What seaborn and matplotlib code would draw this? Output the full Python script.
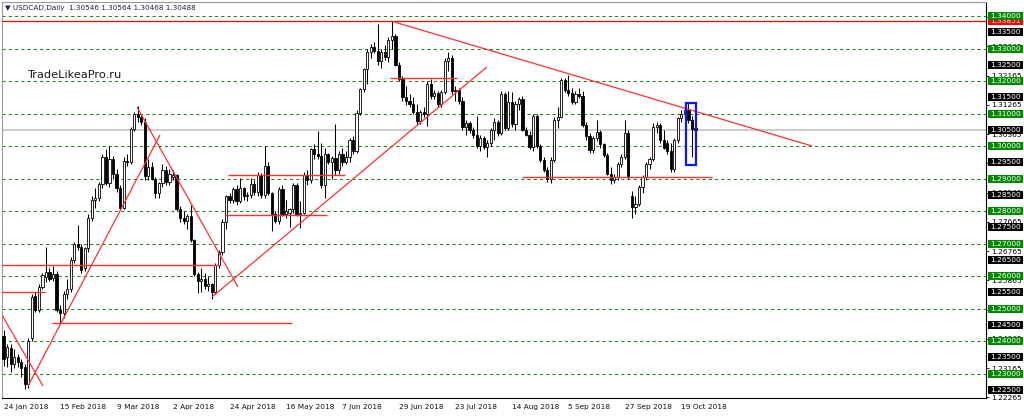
import numpy as np
import pandas as pd
import matplotlib
matplotlib.use("Agg")
import matplotlib.pyplot as plt
import matplotlib.transforms as mtransforms
from matplotlib.patches import Rectangle
import seaborn as sns

sns.set_style("white")
plt.rcParams['font.family'] = ['DejaVu Sans']

# ---------------- data ----------------
chart_title = "\u25bc USDCAD,Daily  1.30546 1.30564 1.30468 1.30488"
watermark = "TradeLikeaPro.ru"

opens = [
    1.2415, 1.2350, 1.2380, 1.2330, 1.2350, 1.2335, 1.2320, 1.2268, 1.2410, 1.2540,
    1.2495, 1.2567, 1.2598, 1.2612, 1.2595, 1.2605, 1.2495, 1.2485, 1.2545, 1.2560,
    1.2650, 1.2700, 1.2690, 1.2625, 1.2685, 1.2778, 1.2835, 1.2840, 1.2882, 1.2965,
    1.2885, 1.2960, 1.2915, 1.2870, 1.2810, 1.2955, 1.2950, 1.3052, 1.3098, 1.3090,
    1.3075, 1.2907, 1.2935, 1.2900, 1.2855, 1.2885, 1.2925, 1.2890, 1.2905, 1.2910,
    1.2805, 1.2780, 1.2770, 1.2785, 1.2712, 1.2605, 1.2585, 1.2592, 1.2568, 1.2575,
    1.2550, 1.2635, 1.2675, 1.2765, 1.2845, 1.2835, 1.2868, 1.2830, 1.2870, 1.2845,
    1.2848, 1.2882, 1.2860, 1.2912, 1.2850, 1.2940, 1.2856, 1.2790, 1.2768, 1.2868,
    1.2792, 1.2795, 1.2805, 1.2880, 1.2790, 1.2795, 1.2912, 1.2895, 1.2990, 1.2975,
    1.2968, 1.2880, 1.2975, 1.2950, 1.2962, 1.2925, 1.2975, 1.2950, 1.2965, 1.3020,
    1.2985, 1.3103, 1.3174, 1.3236, 1.3290, 1.3305, 1.3292, 1.3262, 1.3290, 1.3275,
    1.3325, 1.3340, 1.3250, 1.3205, 1.3150, 1.3140, 1.3130, 1.3105, 1.3078, 1.3105,
    1.3098, 1.3190, 1.3155, 1.3162, 1.3130, 1.3165, 1.3262, 1.3272, 1.3170, 1.3172,
    1.3140, 1.3060, 1.3072, 1.3050, 1.3035, 1.3000, 1.3025, 1.2997, 1.3010, 1.3050,
    1.3075, 1.3040, 1.3160, 1.3055, 1.3136, 1.3068, 1.3130, 1.3145, 1.3050, 1.3035,
    1.2997, 1.3092, 1.3000, 1.2956, 1.2925, 1.2900, 1.2956, 1.3080, 1.3090, 1.3203,
    1.3172, 1.3162, 1.3136, 1.3160, 1.3155, 1.3065, 1.3030, 1.2988, 1.3025, 1.3043,
    1.3005, 1.2972, 1.2915, 1.2895, 1.2905, 1.2945, 1.2966, 1.3040, 1.2847, 1.2811,
    1.2822, 1.2873, 1.2904, 1.2945, 1.2960, 1.3059, 1.3064, 1.3018, 1.3010, 1.2985,
    1.2930, 1.3018, 1.3085, 1.3098, 1.3112, 1.3080, 1.30546,
]
highs = [
    1.2435, 1.2392, 1.2390, 1.2375, 1.2360, 1.2345, 1.2330, 1.2410, 1.2545, 1.2550,
    1.2575, 1.2610, 1.2690, 1.2625, 1.2630, 1.2615, 1.2510, 1.2555, 1.2590, 1.2660,
    1.2705, 1.2758, 1.2700, 1.2690, 1.2790, 1.2845, 1.2870, 1.2890, 1.2975, 1.2990,
    1.3000, 1.2970, 1.2930, 1.2880, 1.2965, 1.2975, 1.3058, 1.3105, 1.3122, 1.3100,
    1.3085, 1.2960, 1.2950, 1.2905, 1.2890, 1.2945, 1.2940, 1.2930, 1.2925, 1.2915,
    1.2815, 1.2800, 1.2790, 1.2820, 1.2715, 1.2612, 1.2625, 1.2610, 1.2600, 1.2580,
    1.2640, 1.2680, 1.2775, 1.2850, 1.2855, 1.2875, 1.2880, 1.2902, 1.2875, 1.2860,
    1.2902, 1.2895, 1.2920, 1.2918, 1.3000, 1.2950, 1.2860, 1.2800, 1.2875, 1.2880,
    1.2835, 1.2810, 1.2885, 1.2885, 1.2830, 1.2920, 1.2925, 1.2995, 1.3005, 1.3046,
    1.3010, 1.2995, 1.2980, 1.2970, 1.3067, 1.2985, 1.2995, 1.2985, 1.3025, 1.3030,
    1.3110, 1.3180, 1.3240, 1.3300, 1.3315, 1.3320, 1.3375, 1.3300, 1.3310, 1.3335,
    1.3386, 1.3345, 1.3260, 1.3215, 1.3185, 1.3160, 1.3150, 1.3130, 1.3110, 1.3120,
    1.3200, 1.3205, 1.3172, 1.3168, 1.3172, 1.3270, 1.3290, 1.3280, 1.3185, 1.3178,
    1.3150, 1.3080, 1.3078, 1.3060, 1.3092, 1.3035, 1.3030, 1.3020, 1.3055, 1.3085,
    1.3080, 1.3170, 1.3165, 1.3170, 1.3165, 1.3140, 1.3150, 1.3155, 1.3060, 1.3045,
    1.3100, 1.3098, 1.3005, 1.2965, 1.2935, 1.2965, 1.3090, 1.3120, 1.3210, 1.3208,
    1.3220, 1.3180, 1.3170, 1.3180, 1.3168, 1.3075, 1.3040, 1.3030, 1.3080, 1.3050,
    1.3010, 1.2980, 1.2935, 1.2915, 1.2950, 1.2975, 1.3079, 1.3050, 1.2862, 1.2845,
    1.2880, 1.2910, 1.2950, 1.2965, 1.3070, 1.3075, 1.3070, 1.3050, 1.3020, 1.3010,
    1.3025, 1.3090, 1.3110, 1.3135, 1.3133, 1.3092, 1.30564,
]
lows = [
    1.2322, 1.2320, 1.2305, 1.2318, 1.2320, 1.2290, 1.2253, 1.2255, 1.2400, 1.2490,
    1.2488, 1.2560, 1.2582, 1.2585, 1.2585, 1.2488, 1.2455, 1.2470, 1.2530, 1.2550,
    1.2640, 1.2680, 1.2610, 1.2615, 1.2675, 1.2770, 1.2810, 1.2830, 1.2870, 1.2880,
    1.2875, 1.2900, 1.2860, 1.2802, 1.2805, 1.2940, 1.2945, 1.3045, 1.3075, 1.3065,
    1.2895, 1.2895, 1.2895, 1.2840, 1.2840, 1.2875, 1.2880, 1.2880, 1.2895, 1.2800,
    1.2765, 1.2760, 1.2745, 1.2705, 1.2600, 1.2548, 1.2552, 1.2560, 1.2555, 1.2530,
    1.2545, 1.2625, 1.2665, 1.2745, 1.2825, 1.2825, 1.2820, 1.2825, 1.2835, 1.2830,
    1.2840, 1.2850, 1.2845, 1.2840, 1.2840, 1.2850, 1.2737, 1.2762, 1.2760, 1.2785,
    1.2780, 1.2752, 1.2795, 1.2785, 1.2748, 1.2790, 1.2880, 1.2885, 1.2960, 1.2960,
    1.2870, 1.2840, 1.2945, 1.2900, 1.2910, 1.2915, 1.2940, 1.2945, 1.2950, 1.2975,
    1.2980, 1.3095, 1.3165, 1.3190, 1.3270, 1.3285, 1.3250, 1.3240, 1.3265, 1.3260,
    1.3300, 1.3245, 1.3200, 1.3140, 1.3125, 1.3120, 1.3100, 1.3065, 1.3068, 1.3090,
    1.3062, 1.3145, 1.3145, 1.3120, 1.3120, 1.3160, 1.3230, 1.3160, 1.3140, 1.3130,
    1.3050, 1.3035, 1.3040, 1.3025, 1.2995, 1.2985, 1.2990, 1.2965, 1.3000, 1.3020,
    1.3030, 1.3035, 1.3050, 1.3050, 1.3060, 1.3050, 1.3110, 1.3045, 1.3030, 1.2990,
    1.2985, 1.2995, 1.2950, 1.2920, 1.2888, 1.2885, 1.2950, 1.3055, 1.3085, 1.3165,
    1.3155, 1.3130, 1.3128, 1.3148, 1.3060, 1.3020, 1.2980, 1.2980, 1.3015, 1.2995,
    1.2965, 1.2910, 1.2882, 1.2885, 1.2895, 1.2935, 1.2960, 1.2900, 1.2780, 1.2790,
    1.2815, 1.2855, 1.2895, 1.2930, 1.2955, 1.3040, 1.3010, 1.2990, 1.2975, 1.2920,
    1.2920, 1.3010, 1.3075, 1.3090, 1.3070, 1.2967, 1.30468,
]
closes = [
    1.2345, 1.2382, 1.2330, 1.2350, 1.2335, 1.2318, 1.2268, 1.2400, 1.2536, 1.2495,
    1.2567, 1.2603, 1.2612, 1.2592, 1.2605, 1.2495, 1.2485, 1.2545, 1.2560, 1.2650,
    1.2700, 1.2690, 1.2620, 1.2685, 1.2778, 1.2835, 1.2840, 1.2882, 1.2965, 1.2885,
    1.2960, 1.2915, 1.2870, 1.2810, 1.2955, 1.2950, 1.3052, 1.3098, 1.3090, 1.3075,
    1.2907, 1.2935, 1.2900, 1.2855, 1.2885, 1.2925, 1.2890, 1.2915, 1.2912, 1.2805,
    1.2780, 1.2770, 1.2785, 1.2712, 1.2605, 1.2585, 1.2592, 1.2568, 1.2575, 1.2550,
    1.2635, 1.2675, 1.2765, 1.2845, 1.2835, 1.2868, 1.2830, 1.2870, 1.2845, 1.2848,
    1.2882, 1.2860, 1.2912, 1.2850, 1.2940, 1.2856, 1.2790, 1.2768, 1.2868, 1.2792,
    1.2800, 1.2805, 1.2880, 1.2790, 1.2795, 1.2912, 1.2895, 1.2990, 1.2975, 1.2968,
    1.2880, 1.2975, 1.2950, 1.2962, 1.2925, 1.2975, 1.2950, 1.2965, 1.3020, 1.2985,
    1.3103, 1.3174, 1.3236, 1.3290, 1.3305, 1.3292, 1.3262, 1.3290, 1.3275, 1.3325,
    1.3340, 1.3250, 1.3205, 1.3150, 1.3140, 1.3130, 1.3105, 1.3078, 1.3105, 1.3098,
    1.3190, 1.3155, 1.3162, 1.3130, 1.3165, 1.3262, 1.3272, 1.3170, 1.3172, 1.3140,
    1.3060, 1.3072, 1.3050, 1.3035, 1.3000, 1.3025, 1.2997, 1.3010, 1.3050, 1.3075,
    1.3040, 1.3160, 1.3055, 1.3136, 1.3068, 1.3130, 1.3145, 1.3050, 1.3035, 1.2997,
    1.3092, 1.3000, 1.2956, 1.2925, 1.2900, 1.2956, 1.3080, 1.3090, 1.3203, 1.3172,
    1.3162, 1.3136, 1.3160, 1.3155, 1.3065, 1.3030, 1.2988, 1.3025, 1.3043, 1.3005,
    1.2972, 1.2915, 1.2895, 1.2905, 1.2945, 1.2966, 1.3040, 1.2908, 1.2811, 1.2822,
    1.2873, 1.2904, 1.2945, 1.2960, 1.3059, 1.3064, 1.3018, 1.2995, 1.2985, 1.2930,
    1.3018, 1.3085, 1.3098, 1.3112, 1.3080, 1.3052, 1.30488,
]

x_tick_labels = ["24 Jan 2018", "15 Feb 2018", "9 Mar 2018", "2 Apr 2018",
                 "24 Apr 2018", "16 May 2018", "7 Jun 2018", "29 Jun 2018",
                 "23 Jul 2018", "14 Aug 2018", "5 Sep 2018", "27 Sep 2018",
                 "19 Oct 2018"]
x_tick_bars = [0, 16, 32, 48, 64, 80, 96, 112, 128, 144, 160, 176, 192]

green_levels = [1.34, 1.33, 1.32, 1.31, 1.30, 1.29, 1.28, 1.27, 1.26, 1.25, 1.24, 1.23]
black_levels = [1.335, 1.325, 1.315, 1.305, 1.295, 1.285, 1.275, 1.265, 1.255, 1.245, 1.235, 1.225]
scale_ticks = [1.22265, 1.23165, 1.24065, 1.24965, 1.25865, 1.26765, 1.27665,
               1.28565, 1.29465, 1.30365, 1.31265, 1.32165, 1.33065, 1.33965]
current_price = 1.30488
peak_level = 1.33851

# trend lines: (bar0, price0, bar1, price1)
trend_lines = [
    (-0.45, 1.2480, 11.16, 1.22615),
    (6.91, 1.22615, 44.3, 1.30338),
    (37.79, 1.3120, 66.4, 1.25662),
    (59.04, 1.25354, 136.9, 1.32431),
    (109.75, 1.33846, 229.0, 1.30000),
]
# horizontal levels: (bar0, bar1, price)
level_lines = [
    (-0.45, 11.73, 1.25495),
    (-0.45, 61.3, 1.2633),
    (13.71, 81.7, 1.2456),
    (62.7, 91.6, 1.27887),
    (63.57, 96.7, 1.2912),
    (109.5, 128.4, 1.3209),
    (146.9, 200.7, 1.29041),
]
highlight = (193.2, 196.05, 1.29415, 1.31332)

# ---------------- frame ----------------
df = pd.DataFrame({"open": opens, "high": highs, "low": lows, "close": closes})
df["bar"] = np.arange(len(df))

W, H = 1024, 417
fig = plt.figure(figsize=(W / 100, H / 100), dpi=100)
ax = fig.add_axes([2 / W, 19 / H, 984 / W, 396 / H])
fig.patch.set_facecolor("white")
ax.set_facecolor("white")

px_per_bar = 3.53
xmin = -0.45
ax.set_xlim(xmin, xmin + 984 / px_per_bar)
ax.set_ylim(1.222462, 1.344308)

# grid levels
ax.hlines(green_levels, xmin, xmin + 984 / px_per_bar, colors="#138a13",
          linestyles=(0, (3, 3)), linewidth=0.75, zorder=1)
ax.axhline(current_price, color="#c8c8c8", lw=1.3, zorder=1)
ax.axhline(peak_level, color="#ff0000", lw=0.9, zorder=5)

# candles
o = df["open"].to_numpy(); c = df["close"].to_numpy()
hi = df["high"].to_numpy(); lo = df["low"].to_numpy(); x = df["bar"].to_numpy()
up = c >= o
bottom = np.minimum(o, c)
height = np.maximum(np.abs(c - o), 0.00003)
ax.vlines(x, lo, hi, color="black", lw=0.75, zorder=3)
ax.bar(x[up], height[up], bottom=bottom[up], width=0.62, color="white",
       edgecolor="black", linewidth=0.6, zorder=4)
ax.bar(x[~up], height[~up], bottom=bottom[~up], width=0.62, color="black",
       edgecolor="black", linewidth=0.6, zorder=4)

# analysis lines
for b0, p0, b1, p1 in trend_lines:
    ax.plot([b0, b1], [p0, p1], color="#ff3030", lw=0.9, zorder=5,
            solid_capstyle="butt")
for b0, b1, p in level_lines:
    ax.hlines(p, b0, b1, colors="#ff3030", lw=1.0, zorder=5)
b0, b1, p0, p1 = highlight
ax.add_patch(Rectangle((b0, p0), b1 - b0, p1 - p0, fill=False,
                       edgecolor="#0a14ff", lw=1.6, zorder=6))

# spines
for s in ["top", "left"]:
    ax.spines[s].set_color("#9a9a9a"); ax.spines[s].set_linewidth(0.8)
for s in ["right", "bottom"]:
    ax.spines[s].set_color("black"); ax.spines[s].set_linewidth(0.8)

# x axis
ax.set_xticks(x_tick_bars)
ax.set_xticklabels(x_tick_labels, fontsize=5.3, color="#101010")
plt.setp(ax.get_xticklabels(), ha="left")
ax.tick_params(axis="x", direction="out", length=3, width=0.7, pad=1.5,
               colors="black", labelcolor="#101010")

# y axis (right)
ax.yaxis.tick_right()
ax.set_yticks(scale_ticks)
ax.set_yticklabels([f"{v:.5f}" for v in scale_ticks], fontsize=5.4)
ax.tick_params(axis="y", direction="out", length=2.5, width=0.6, pad=1.5,
               colors="black")

trans = mtransforms.blended_transform_factory(ax.transAxes, ax.transData)
bx0 = (988 - 2) / 984
bw = 35 / 984
bh = 8 / 3250

def price_box(level, face, text, z):
    ax.add_patch(Rectangle((bx0, level - bh / 2), bw, bh, transform=trans,
                           clip_on=False, facecolor=face, edgecolor="none",
                           zorder=z))
    ax.text(bx0 + bw / 2, level, text, transform=trans, clip_on=False,
            ha="center", va="center", fontsize=5.4, color="white", zorder=z + 0.5)

price_box(current_price, "#303030", f"{current_price:.5f}", 8)
price_box(peak_level, "#ff0000", f"{peak_level:.5f}", 9)
for lv in black_levels:
    price_box(lv, "black", f"{lv:.5f}", 10)
for lv in green_levels:
    price_box(lv, "#008a00", f"{lv:.5f}", 11)

# texts
ax.text(3 / 984, 1 - 6.3 / 396, chart_title, transform=ax.transAxes,
        ha="left", va="center", fontsize=5.2, color="#20204a", zorder=12)
ax.text(25 / 984, 1 - 76 / 396, watermark, transform=ax.transAxes,
        ha="left", va="baseline", fontsize=8.2, color="#1a1a1a", zorder=12)

fig.savefig("out.png", dpi=100, facecolor="white")
